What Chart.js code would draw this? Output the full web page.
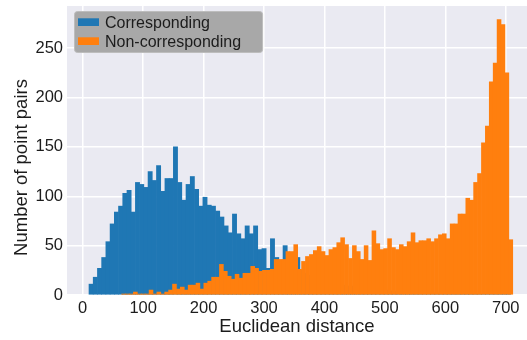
<!DOCTYPE html>
<html>
<head>
<meta charset="utf-8">
<script src="https://cdn.jsdelivr.net/npm/chart.js@4.4.1/dist/chart.umd.min.js"></script>
<style>
  html, body { margin: 0; padding: 0; background: #ffffff; }
  canvas { display: block; }
</style>
</head>
<body>
<canvas id="hist" width="527" height="340"></canvas>
<script>
// Series names shown in the legend
const seriesNames = ['Corresponding', 'Non-corresponding'];
const xTitle = 'Euclidean distance';
const yTitle = 'Number of point pairs';

// Histogram bins (distance units): first edge and width of each bin
const correspondingBinStart = 10.4;
const correspondingBinWidth = 6.98;
const nonCorrespondingBinStart = 64.5;
const nonCorrespondingBinWidth = 6.471;

// Counts per bin
const correspondingCounts = [
  11, 18, 27, 38, 54, 72, 84, 90, 103, 106,
  84, 114, 112, 109, 125, 116, 131, 105, 118, 118,
  150, 114, 96, 112, 120, 107, 90, 99, 91, 90,
  85, 79, 70, 63, 82, 62, 57, 70, 62, 70,
  46, 47, 27, 57, 38, 35, 50, 33, 30, 38,
  25, 22, 20, 19, 17, 16, 15, 14, 12, 11,
  10, 9, 9, 8, 7, 7, 6, 6, 5, 5,
  5, 4, 4, 4, 3, 3, 3, 3, 3, 2,
  2, 2, 2, 2, 2, 2, 2, 1, 1, 1,
  1, 1, 1, 1, 1, 1, 1, 1, 1, 1
];
const nonCorrespondingCounts = [
  1, 1, 1, 3, 1, 1, 1, 5, 1, 3,
  1, 3, 5, 11, 6, 8, 5, 10, 10, 12,
  6, 12, 14, 18, 18, 31, 24, 19, 16, 21,
  17, 22, 22, 29, 27, 24, 25, 25, 26, 36,
  36, 36, 44, 44, 51, 26, 34, 39, 41, 45,
  49, 44, 40, 46, 48, 53, 58, 51, 37, 50,
  44, 36, 50, 35, 65, 52, 46, 47, 57, 48,
  46, 51, 49, 54, 63, 53, 55, 55, 57, 54,
  57, 61, 62, 57, 72, 72, 82, 82, 98, 96,
  114, 123, 154, 171, 216, 235, 279, 274, 225, 56
];

// Axis ticks
const xTicks = [0, 100, 200, 300, 400, 500, 600, 700];
const yTicks = [0, 50, 100, 150, 200, 250];

const FONT = "'Liberation Sans', Arial, Helvetica, sans-serif";
const TEXT = '#1c1c1c';
const BLUE = '#1f77b4';
const ORANGE = '#ff7f0e';

function toPoints(start, width, counts) {
  return counts.map((count, k) => ({ x: start + width * (k + 0.5), y: count }));
}

// Figure and axes background
const plotBackground = {
  id: 'plotBackground',
  beforeDraw(chart) {
    const { ctx, chartArea: a, width, height } = chart;
    ctx.save();
    ctx.fillStyle = '#ffffff';
    ctx.fillRect(0, 0, width, height);
    ctx.fillStyle = '#eaeaf2';
    ctx.fillRect(a.left, a.top, a.right - a.left, a.bottom - a.top);
    ctx.restore();
  }
};

// Vertical axis title, set slightly below the middle of the axis
const yAxisTitle = {
  id: 'yAxisTitle',
  afterDraw(chart) {
    const { ctx, chartArea: a } = chart;
    ctx.save();
    ctx.translate(21.5, (a.top + a.bottom) / 2 + 17);
    ctx.rotate(-Math.PI / 2);
    ctx.font = '18.5px ' + FONT;
    ctx.fillStyle = TEXT;
    ctx.textAlign = 'center';
    ctx.textBaseline = 'middle';
    ctx.fillText(yTitle, 0, 0);
    ctx.restore();
  }
};

// Legend drawn inside the axes, upper left, on a grey framed box
const insideLegend = {
  id: 'insideLegend',
  afterDraw(chart) {
    const { ctx, chartArea: a } = chart;
    const sets = chart.data.datasets;
    ctx.save();
    ctx.font = '16px ' + FONT;
    const textW = Math.max(...sets.map(d => ctx.measureText(d.label).width));
    const left = a.left + 7;
    const top = a.top + 5;
    const textX = left + 31;
    const w = textX - left + textW + 21;
    const h = 41;
    ctx.beginPath();
    ctx.roundRect(left + 0.5, top + 0.5, w, h, 3);
    ctx.fillStyle = '#a8a8a8';
    ctx.fill();
    ctx.strokeStyle = '#bdbdbd';
    ctx.lineWidth = 1;
    ctx.stroke();
    sets.forEach((d, k) => {
      const baseY = top + 16.7 + k * 19;
      ctx.fillStyle = d.backgroundColor;
      ctx.fillRect(left + 4, baseY - 9.4, 21, 7.7);
      ctx.fillStyle = TEXT;
      ctx.textBaseline = 'alphabetic';
      ctx.textAlign = 'left';
      ctx.fillText(d.label, textX, baseY);
    });
    ctx.restore();
  }
};

const barStyle = {
  stack: 'hist',
  barThickness: 'flex',
  barPercentage: 1,
  categoryPercentage: 1,
  borderWidth: 0
};

new Chart(document.getElementById('hist'), {
  type: 'bar',
  data: {
    datasets: [
      Object.assign({
        label: seriesNames[0],
        data: toPoints(correspondingBinStart, correspondingBinWidth, correspondingCounts),
        backgroundColor: BLUE,
        order: 2
      }, barStyle),
      Object.assign({
        label: seriesNames[1],
        data: toPoints(nonCorrespondingBinStart, nonCorrespondingBinWidth, nonCorrespondingCounts),
        backgroundColor: ORANGE,
        order: 1
      }, barStyle)
    ]
  },
  options: {
    responsive: false,
    devicePixelRatio: 1,
    animation: false,
    events: [],
    layout: { padding: { top: 6, right: 0, bottom: 0, left: 0 } },
    plugins: {
      legend: { display: false },
      tooltip: { enabled: false }
    },
    scales: {
      x: {
        type: 'linear',
        min: -26,
        max: 735.2,
        offset: false,
        grid: { color: '#ffffff', lineWidth: 1.5, drawTicks: false, offset: false },
        border: { display: false },
        afterBuildTicks(scale) { scale.ticks = xTicks.map(v => ({ value: v })); },
        ticks: {
          color: TEXT, font: { family: FONT, size: 16.5 }, padding: 3.5,
          maxRotation: 0, autoSkip: false
        },
        title: {
          display: true, text: xTitle, color: TEXT,
          font: { family: FONT, size: 18.5 }, padding: { top: 0, bottom: 1.5 }
        },
        afterFit(scale) {
          scale.height = 45;
          scale.paddingLeft = 0;
          scale.paddingRight = 0;
        }
      },
      y: {
        type: 'linear',
        min: 0,
        max: 292.7,
        stacked: false,
        grid: { color: '#ffffff', lineWidth: 1.5, drawTicks: false },
        border: { display: false },
        afterBuildTicks(scale) { scale.ticks = yTicks.map(v => ({ value: v })); },
        ticks: { color: TEXT, font: { family: FONT, size: 16.5 }, padding: 4 },
        title: { display: false },
        afterFit(scale) {
          scale.width = 67;
          scale.paddingTop = 0;
          scale.paddingBottom = 0;
        }
      }
    }
  },
  plugins: [plotBackground, yAxisTitle, insideLegend]
});
</script>
</body>
</html>
